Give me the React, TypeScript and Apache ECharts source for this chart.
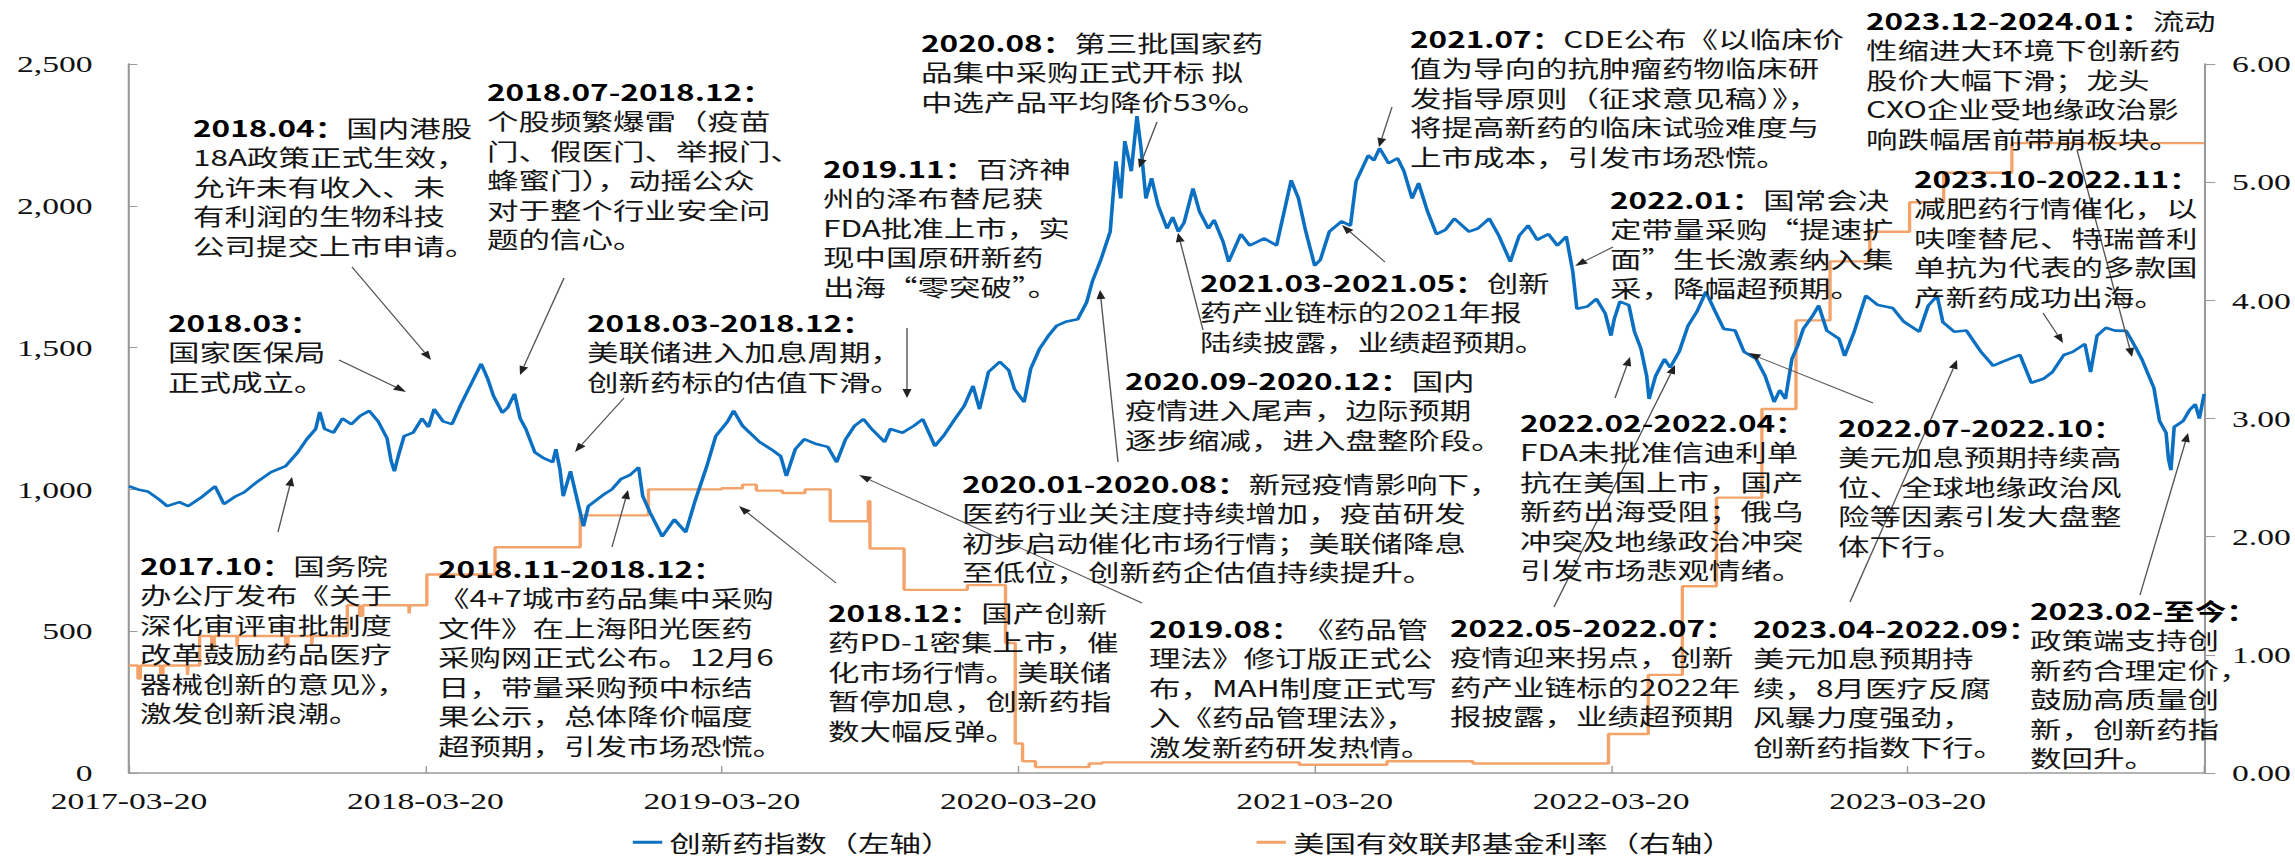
import React, { useEffect, useRef } from 'react';
import * as echarts from 'echarts';

// The reference picture is horizontally stretched; the chart is drawn on a narrower
// canvas and stretched back with a CSS transform so that texts look the same.
const S = 1.4;
const W = 2295;
const H = 860;
const IW = W / S;

const xTickLabels = ['2017-03-20', '2018-03-20', '2019-03-20', '2020-03-20', '2021-03-20', '2022-03-20', '2023-03-20'];

const idxDates = [
  '2017-03-20', '2017-03-31', '2017-04-12', '2017-04-26', '2017-05-06', '2017-05-21', '2017-06-01', '2017-06-19',
  '2017-07-04', '2017-07-15', '2017-07-29', '2017-08-09', '2017-08-24', '2017-09-11', '2017-09-29', '2017-10-14',
  '2017-10-25', '2017-11-05', '2017-11-10', '2017-11-16', '2017-11-27', '2017-12-08', '2017-12-19', '2017-12-30',
  '2018-01-10', '2018-01-21', '2018-02-01', '2018-02-06', '2018-02-10', '2018-02-15', '2018-02-22', '2018-03-05',
  '2018-03-16', '2018-03-24', '2018-03-31', '2018-04-11', '2018-04-22', '2018-05-03', '2018-05-17', '2018-05-28',
  '2018-06-05', '2018-06-12', '2018-06-23', '2018-06-30', '2018-07-08', '2018-07-15', '2018-07-22', '2018-08-02',
  '2018-08-13', '2018-08-24', '2018-08-28', '2018-09-02', '2018-09-06', '2018-09-15', '2018-09-26', '2018-10-01',
  '2018-10-07', '2018-10-25', '2018-11-05', '2018-11-16', '2018-11-27', '2018-12-08', '2018-12-13', '2018-12-22',
  '2019-01-06', '2019-01-21', '2019-02-04', '2019-02-15', '2019-03-02', '2019-03-13', '2019-03-27', '2019-04-04',
  '2019-04-15', '2019-05-06', '2019-05-21', '2019-06-01', '2019-06-08', '2019-06-19', '2019-06-30', '2019-07-15',
  '2019-07-29', '2019-08-09', '2019-08-20', '2019-08-31', '2019-09-11', '2019-09-22', '2019-10-07', '2019-10-14',
  '2019-10-29', '2019-11-12', '2019-11-23', '2019-12-08', '2019-12-19', '2019-12-30', '2020-01-13', '2020-01-24',
  '2020-02-01', '2020-02-12', '2020-02-26', '2020-03-08', '2020-03-15', '2020-03-27', '2020-04-04', '2020-04-15',
  '2020-04-26', '2020-05-06', '2020-05-17', '2020-06-01', '2020-06-12', '2020-06-19', '2020-06-30', '2020-07-11',
  '2020-07-18', '2020-07-24', '2020-07-29', '2020-08-06', '2020-08-13', '2020-08-18', '2020-08-24', '2020-08-31',
  '2020-09-08', '2020-09-19', '2020-09-26', '2020-10-03', '2020-10-10', '2020-10-21', '2020-10-29', '2020-11-09',
  '2020-11-16', '2020-11-27', '2020-12-04', '2020-12-19', '2020-12-30', '2021-01-17', '2021-02-01', '2021-02-19',
  '2021-02-28', '2021-03-09', '2021-03-20', '2021-03-27', '2021-04-07', '2021-04-22', '2021-05-03', '2021-05-10',
  '2021-05-25', '2021-06-01', '2021-06-08', '2021-06-19', '2021-06-30', '2021-07-08', '2021-07-18', '2021-07-26',
  '2021-08-06', '2021-08-17', '2021-08-28', '2021-09-08', '2021-09-26', '2021-10-07', '2021-10-21', '2021-11-01',
  '2021-11-16', '2021-11-27', '2021-12-08', '2021-12-19', '2022-01-02', '2022-01-13', '2022-01-24', '2022-02-01',
  '2022-02-06', '2022-02-19', '2022-03-02', '2022-03-13', '2022-03-20', '2022-03-24', '2022-03-31', '2022-04-11',
  '2022-04-18', '2022-04-26', '2022-05-03', '2022-05-06', '2022-05-14', '2022-05-25', '2022-06-01', '2022-06-12',
  '2022-06-23', '2022-07-04', '2022-07-15', '2022-07-26', '2022-08-06', '2022-08-20', '2022-08-31', '2022-09-15',
  '2022-09-26', '2022-10-07', '2022-10-14', '2022-10-21', '2022-10-29', '2022-11-05', '2022-11-12', '2022-11-23',
  '2022-12-01', '2022-12-11', '2022-12-26', '2023-01-02', '2023-01-13', '2023-01-28', '2023-02-12', '2023-03-02',
  '2023-03-16', '2023-04-04', '2023-04-15', '2023-04-26', '2023-05-03', '2023-05-17', '2023-06-01', '2023-06-19',
  '2023-07-04', '2023-07-15', '2023-08-06', '2023-08-20', '2023-09-04', '2023-09-15', '2023-09-29', '2023-10-10',
  '2023-10-25', '2023-11-01', '2023-11-09', '2023-11-20', '2023-12-01', '2023-12-15', '2023-12-26', '2024-01-03',
  '2024-01-18', '2024-01-25', '2024-02-02', '2024-02-05', '2024-02-08', '2024-02-12', '2024-02-23', '2024-03-02',
  '2024-03-09', '2024-03-14', '2024-03-20',
];

const idxValues = [
  1011, 1000, 993, 965, 941, 955, 941, 976,
  1011, 948, 975, 990, 1025, 1061, 1082, 1131,
  1177, 1213, 1273, 1213, 1200, 1250, 1230, 1260,
  1277, 1240, 1180, 1100, 1064, 1120, 1188, 1200,
  1250, 1220, 1283, 1240, 1230, 1300, 1380, 1443,
  1390, 1330, 1270, 1290, 1337, 1250, 1213, 1131,
  1110, 1096, 1142, 1071, 976, 1064, 930, 870,
  941, 980, 1000, 1036, 1050, 1078, 976, 919,
  834, 894, 849, 955, 1082, 1188, 1237, 1277,
  1224, 1167, 1140, 1117, 1047, 1142, 1177, 1160,
  1150, 1096, 1177, 1224, 1248, 1210, 1167, 1213,
  1200, 1224, 1248, 1153, 1190, 1237, 1294, 1365,
  1283, 1414, 1450, 1420, 1354, 1308, 1425, 1496,
  1542, 1577, 1591, 1600, 1660, 1733, 1814, 1909,
  2157, 2026, 2228, 2122, 2316, 2203, 2026, 2097,
  2002, 1920, 1960, 1909, 1940, 2061, 1980, 1920,
  1950, 1874, 1803, 1900, 1860, 1885, 1860, 2090,
  2026, 1909, 1789, 1810, 1909, 1945, 1930, 2086,
  2178, 2160, 2203, 2150, 2168, 2122, 2026, 2080,
  1980, 1900, 1915, 1955, 1909, 1920, 1955, 1900,
  1803, 1895, 1931, 1880, 1900, 1860, 1892, 1768,
  1637, 1645, 1672, 1620, 1542, 1600, 1662, 1650,
  1556, 1496, 1400, 1319, 1400, 1460, 1430, 1485,
  1577, 1627, 1697, 1630, 1566, 1560, 1485, 1460,
  1400, 1308, 1350, 1319, 1460, 1506, 1566, 1610,
  1648, 1560, 1531, 1471, 1550, 1683, 1650, 1640,
  1591, 1556, 1648, 1683, 1590, 1556, 1560, 1485,
  1436, 1450, 1474, 1376, 1390, 1414, 1474, 1485,
  1513, 1414, 1542, 1570, 1560, 1559, 1503, 1460,
  1358, 1241, 1200, 1107, 1068, 1220, 1241, 1280,
  1300, 1250, 1337,
];

const fedDates = [
  '2017-03-20', '2017-03-31', '2017-04-03', '2017-04-28', '2017-05-01', '2017-05-31', '2017-06-01', '2017-06-15',
  '2017-06-30', '2017-07-03', '2017-07-31', '2017-08-01', '2017-09-29', '2017-10-02', '2017-10-31', '2017-11-01',
  '2017-12-14', '2017-12-29', '2018-01-02', '2018-02-28', '2018-03-01', '2018-03-22', '2018-06-14', '2018-09-27',
  '2018-12-20', '2019-03-20', '2019-04-15', '2019-05-02', '2019-06-03', '2019-07-01', '2019-08-01', '2019-09-17',
  '2019-09-19', '2019-10-31', '2020-01-17', '2020-03-04', '2020-03-16', '2020-03-25', '2020-04-10', '2020-06-15',
  '2020-07-01', '2021-03-01', '2021-06-17', '2021-10-01', '2022-03-17', '2022-05-05', '2022-06-16', '2022-07-28',
  '2022-09-22', '2022-11-03', '2022-12-15', '2023-02-02', '2023-03-23', '2023-05-04', '2023-07-27', '2024-03-20',
];

const fedRates = [
  0.91, 0.80, 0.91, 0.84, 0.91, 0.83, 0.91, 1.16,
  1.06, 1.16, 1.07, 1.16, 1.07, 1.16, 1.08, 1.16,
  1.42, 1.33, 1.42, 1.35, 1.42, 1.68, 1.91, 2.18,
  2.40, 2.41, 2.44, 2.39, 2.37, 2.40, 2.13, 2.30,
  1.90, 1.55, 1.59, 1.10, 0.25, 0.10, 0.05, 0.08,
  0.09, 0.07, 0.10, 0.08, 0.33, 0.83, 1.58, 2.33,
  3.08, 3.83, 4.33, 4.58, 4.83, 5.08, 5.33, 5.33,
];

const seriesNames = ['创新药指数（左轴）', '美国有效联邦基金利率（右轴）'];

// Annotation blocks: x = left edge, y = centre of first line (reference pixels)
const notes = [
  { x: 168, y: 322, title: '2018.03：', lines: ['', '国家医保局', '正式成立。'] },
  { x: 193, y: 127, title: '2018.04：', lines: ['国内港股', '18A政策正式生效，', '允许未有收入、未', '有利润的生物科技', '公司提交上市申请。'] },
  { x: 487, y: 91, title: '2018.07-2018.12：', lines: ['', '个股频繁爆雷（疫苗', '门、假医门、举报门、', '蜂蜜门），动摇公众', '对于整个行业安全问', '题的信心。'] },
  { x: 587, y: 322, title: '2018.03-2018.12：', lines: ['', '美联储进入加息周期，', '创新药标的估值下滑。'] },
  { x: 140, y: 565, title: '2017.10：', lines: ['国务院', '办公厅发布《关于', '深化审评审批制度', '改革鼓励药品医疗', '器械创新的意见》，', '激发创新浪潮。'] },
  { x: 438, y: 568, title: '2018.11-2018.12：', lines: ['', '《4+7城市药品集中采购', '文件》在上海阳光医药', '采购网正式公布。12月6', '日，带量采购预中标结', '果公示，总体降价幅度', '超预期，引发市场恐慌。'] },
  { x: 828, y: 612, title: '2018.12：', lines: ['国产创新', '药PD-1密集上市，催', '化市场行情。美联储', '暂停加息，创新药指', '数大幅反弹。'] },
  { x: 1149, y: 628, title: '2019.08：', lines: ['《药品管', '理法》修订版正式公', '布，MAH制度正式写', '入《药品管理法》，', '激发新药研发热情。'] },
  { x: 962, y: 483, title: '2020.01-2020.08：', lines: ['新冠疫情影响下，', '医药行业关注度持续增加，疫苗研发', '初步启动催化市场行情；美联储降息', '至低位，创新药企估值持续提升。'] },
  { x: 823, y: 168, title: '2019.11：', lines: ['百济神', '州的泽布替尼获', 'FDA批准上市，实', '现中国原研新药', '出海“零突破”。'] },
  { x: 921, y: 42, title: '2020.08：', lines: ['第三批国家药', '品集中采购正式开标 拟', '中选产品平均降价53%。'] },
  { x: 1125, y: 380, title: '2020.09-2020.12：', lines: ['国内', '疫情进入尾声，边际预期', '逐步缩减，进入盘整阶段。'] },
  { x: 1200, y: 282, title: '2021.03-2021.05：', lines: ['创新', '药产业链标的2021年报', '陆续披露，业绩超预期。'] },
  { x: 1410, y: 38, title: '2021.07：', lines: ['CDE公布《以临床价', '值为导向的抗肿瘤药物临床研', '发指导原则（征求意见稿）》，', '将提高新药的临床试验难度与', '上市成本，引发市场恐慌。'] },
  { x: 1866, y: 20, title: '2023.12-2024.01：', lines: ['流动', '性缩进大环境下创新药', '股价大幅下滑；龙头', 'CXO企业受地缘政治影', '响跌幅居前带崩板块。'] },
  { x: 1610, y: 199, title: '2022.01：', lines: ['国常会决', '定带量采购“提速扩', '面”生长激素纳入集', '采，降幅超预期。'] },
  { x: 1914, y: 178, title: '2023.10-2022.11：', lines: ['', '减肥药行情催化，以', '呋喹替尼、特瑞普利', '单抗为代表的多款国', '产新药成功出海。'] },
  { x: 1520, y: 422, title: '2022.02-2022.04：', lines: ['', 'FDA未批准信迪利单', '抗在美国上市，国产', '新药出海受阻；俄乌', '冲突及地缘政治冲突', '引发市场悲观情绪。'] },
  { x: 1450, y: 627, title: '2022.05-2022.07：', lines: ['', '疫情迎来拐点，创新', '药产业链标的2022年', '报披露，业绩超预期'] },
  { x: 1838, y: 427, title: '2022.07-2022.10：', lines: ['', '美元加息预期持续高', '位、全球地缘政治风', '险等因素引发大盘整', '体下行。'] },
  { x: 1753, y: 628, title: '2023.04-2022.09：', lines: ['', '美元加息预期持', '续，8月医疗反腐', '风暴力度强劲，', '创新药指数下行。'] },
  { x: 2030, y: 610, title: '2023.02-至今：', lines: ['', '政策端支持创', '新药合理定价，', '鼓励高质量创', '新，创新药指', '数回升。'] },
];

// Arrows: [tailX, tailY, headX, headY] in reference pixels
const arrows = [
  [278, 532, 292, 477], [339, 360, 406, 392], [352, 267, 431, 360], [564, 278, 520, 375],
  [624, 398, 575, 452], [612, 547, 628, 490], [836, 583, 739, 506], [1142, 603, 859, 475],
  [907, 328, 907, 398], [1118, 462, 1100, 290], [1157, 122, 1139, 168], [1203, 330, 1178, 233],
  [1385, 262, 1342, 225], [1392, 107, 1379, 147], [1613, 247, 1575, 266], [1615, 398, 1630, 357],
  [1554, 607, 1675, 365], [1873, 403, 1748, 353], [1850, 602, 1957, 360], [2043, 313, 2063, 343],
  [2077, 150, 2132, 357], [2140, 595, 2188, 433],
];

const T0 = Date.parse('2017-03-20');
const toT = (d: string) => (Date.parse(d) - T0) / (365.25 * 86400000);

const CJK = 'Noto Sans CJK SC';
const FS = 22.5;
const LH = 29.5;

function noteEls() {
  return notes.map((n) => {
    const rest = n.lines.slice(1);
    const text = `{h|${n.title}}${n.lines[0]}` + (rest.length ? '\n' + rest.join('\n') : '');
    return {
      type: 'text',
      z: 30,
      x: n.x / S,
      y: n.y - LH / 2,
      style: {
        text,
        fontSize: FS,
        fontFamily: CJK,
        fontWeight: 'normal',
        lineHeight: LH,
        fill: '#151515',
        align: 'left',
        verticalAlign: 'top',
        rich: {
          h: { fontSize: FS, fontFamily: CJK, fontWeight: 'bold', lineHeight: LH, fill: '#000' },
        },
      },
    };
  });
}

function arrowEls() {
  const out: any[] = [];
  arrows.forEach(([x1, y1, x2, y2]) => {
    const X1 = x1 / S;
    const X2 = x2 / S;
    const dx = X2 - X1;
    const dy = y2 - y1;
    const len = Math.hypot(dx, dy);
    const ux = dx / len;
    const uy = dy / len;
    const L = 9;
    const Wd = 3.2;
    const bx = X2 - ux * L;
    const by = y2 - uy * L;
    out.push({
      type: 'line', z: 25,
      shape: { x1: X1, y1, x2: bx, y2: by },
      style: { stroke: '#555', lineWidth: 1 },
    });
    out.push({
      type: 'polygon', z: 25,
      shape: { points: [[X2, y2], [bx - uy * Wd, by + ux * Wd], [bx + uy * Wd, by - ux * Wd]] },
      style: { fill: '#222' },
    });
  });
  return out;
}

function buildOption() {
  const axisLabelStyle = { fontFamily: 'Liberation Serif', fontSize: 24, color: '#111' };
  return {
    animation: false,
    backgroundColor: '#fff',
    grid: { left: 129 / S, right: 90 / S, top: 64, bottom: 87, containLabel: false },
    legend: {
      left: 452,
      top: 831,
      padding: 0,
      icon: 'rect',
      itemWidth: 21,
      itemHeight: 3,
      itemGap: 217,
      selectedMode: false,
      data: seriesNames,
      textStyle: { fontFamily: CJK, fontSize: FS, color: '#111' },
    },
    xAxis: {
      type: 'value',
      min: 0,
      max: 7,
      interval: 1,
      axisLine: { show: true, lineStyle: { color: '#999', width: 1.5 } },
      axisTick: { show: true, inside: true, length: 7, lineStyle: { color: '#999' } },
      axisLabel: {
        ...axisLabelStyle,
        margin: 16,
        formatter: (v: number) => {
          const i = Math.round(v);
          return Math.abs(v - i) < 1e-6 && i < xTickLabels.length ? xTickLabels[i] : '';
        },
      },
      splitLine: { show: false },
    },
    yAxis: [
      {
        type: 'value',
        position: 'left',
        min: 0,
        max: 2500,
        interval: 500,
        axisLine: { show: true, lineStyle: { color: '#999', width: 1.5 } },
        axisTick: { show: true, inside: true, length: 6, lineStyle: { color: '#999' } },
        axisLabel: { ...axisLabelStyle, margin: 26, formatter: (v: number) => v.toLocaleString('en-US') },
        splitLine: { show: false },
      },
      {
        type: 'value',
        position: 'right',
        min: 0,
        max: 6,
        interval: 1,
        axisLine: { show: true, lineStyle: { color: '#999', width: 1.5 } },
        axisTick: { show: true, inside: false, length: 8, lineStyle: { color: '#999' } },
        axisLabel: { ...axisLabelStyle, margin: 20, formatter: (v: number) => v.toFixed(2) },
        splitLine: { show: false },
      },
    ],
    series: [
      {
        name: seriesNames[1],
        type: 'line',
        yAxisIndex: 1,
        step: 'end',
        showSymbol: false,
        symbol: 'none',
        lineStyle: { color: '#F4A46A', width: 2.4 },
        itemStyle: { color: '#F4A46A' },
        data: fedDates.map((d, i) => [toT(d), fedRates[i]]),
        z: 3,
      },
      {
        name: seriesNames[0],
        type: 'line',
        yAxisIndex: 0,
        showSymbol: false,
        symbol: 'none',
        lineStyle: { color: '#0B70C2', width: 2.6 },
        itemStyle: { color: '#0B70C2' },
        data: idxDates.map((d, i) => [toT(d), idxValues[i]]),
        z: 4,
      },
    ],
    graphic: [...arrowEls(), ...noteEls()],
  };
}

export default function App() {
  const ref = useRef<HTMLDivElement>(null);
  useEffect(() => {
    if (!ref.current) return;
    const chart = echarts.init(ref.current, null, { renderer: 'svg', width: IW, height: H });
    chart.setOption(buildOption() as any);
    return () => chart.dispose();
  }, []);
  return (
    <div style={{ position: 'absolute', left: 0, top: 0, width: W, height: H, overflow: 'hidden', background: '#fff' }}>
      <div
        ref={ref}
        style={{ width: IW, height: H, transform: `scaleX(${S})`, transformOrigin: '0 0' }}
      />
    </div>
  );
}
